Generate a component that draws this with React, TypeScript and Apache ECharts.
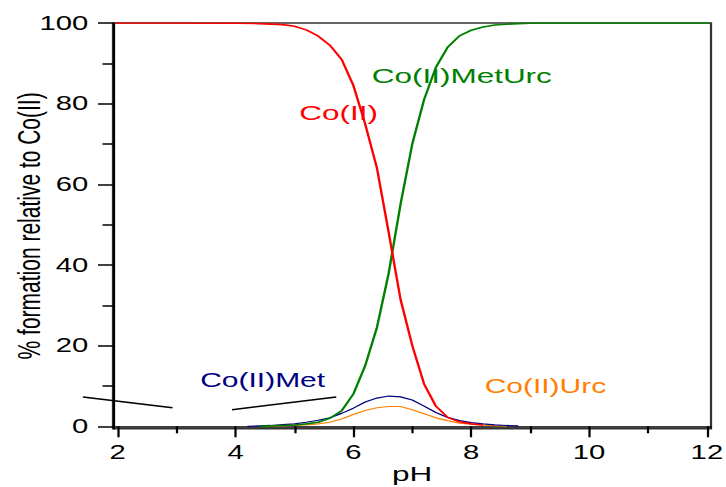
import React, { useEffect, useRef } from "react";
import * as echarts from "echarts";

// The reference picture is horizontally stretched; draw at 1/S width and stretch.
const S = 1.5;
const W = 726 / S;
const H = 487;

const FONT = "'Liberation Sans', Arial, sans-serif";

// ---- data (pH, % formation) ----
const redPH = [1.95, 3.0, 4.0, 4.4, 4.8, 5.0, 5.2, 5.4, 5.6, 5.8, 6.0, 6.2, 6.4, 6.6, 6.8, 7.0, 7.2, 7.4, 7.6, 7.8, 8.0, 8.2];
const redVal = [100, 100, 99.95, 99.85, 99.6, 99.2, 98.3, 96.8, 94.5, 91, 84.5, 75, 64, 48, 31.5, 20, 10.5, 5, 2.2, 1.1, 0.6, 0.3];

const greenPH = [4.4, 4.6, 4.8, 5.0, 5.2, 5.4, 5.6, 5.8, 6.0, 6.2, 6.4, 6.6, 6.8, 7.0, 7.2, 7.4, 7.6, 7.8, 8.0, 8.2, 8.4, 8.6, 8.8, 9.0, 9.2, 10.0, 11.0, 12.05];
const greenVal = [0, 0.1, 0.2, 0.3, 0.6, 1.0, 2.0, 3.8, 8, 15, 24.5, 38, 55, 70, 81, 89, 94, 96.8, 98.2, 99, 99.5, 99.7, 99.85, 99.95, 100, 100, 100, 100];

const bluePH = [4.2, 4.4, 4.6, 4.8, 5.0, 5.2, 5.4, 5.6, 5.8, 6.0, 6.2, 6.4, 6.6, 6.8, 7.0, 7.2, 7.4, 7.6, 7.8, 8.0, 8.2, 8.4, 8.6, 8.8];
const blueVal = [0.0, 0.1, 0.2, 0.4, 0.6, 1.0, 1.5, 2.1, 3.2, 4.5, 6.0, 7.0, 7.5, 7.3, 6.5, 5.0, 3.4, 2.2, 1.4, 0.9, 0.6, 0.35, 0.2, 0.1];

const orangePH = [4.4, 4.6, 4.8, 5.0, 5.2, 5.4, 5.6, 5.8, 6.0, 6.2, 6.4, 6.6, 6.8, 7.0, 7.2, 7.4, 7.6, 7.8, 8.0, 8.2, 8.4, 8.6];
const orangeVal = [0, 0.05, 0.1, 0.2, 0.35, 0.6, 1.0, 1.8, 2.9, 3.9, 4.6, 4.9, 4.9, 4.1, 3.1, 2.1, 1.4, 0.8, 0.5, 0.3, 0.15, 0.05];

// decorative black strokes (data coordinates)
const stroke1PH = [1.41, 2.93];
const stroke1Val = [7.27, 4.61];
const stroke2PH = [3.94, 5.71];
const stroke2Val = [4.12, 7.27];

// axes
const xMin = 1.92;
const xMax = 12.07;
const yMin = -0.6;
const yMax = 100;
const xTickValues = [2, 4, 6, 8, 10, 12];
const xMinorValues = [3, 5, 7, 9, 11];
const yTickValues = [0, 20, 40, 60, 80, 100];
const yMinorValues = [10, 30, 50, 70, 90];
const xName = "pH";
const yName = "% formation relative to Co(II)";

// species labels
const speciesNames = ["Co(II)", "Co(II)MetUrc", "Co(II)Met", "Co(II)Urc"];
const speciesColors = ["#ff0000", "#008000", "#000080", "#ff8000"];
const labelPH = [5.75, 7.84, 4.46, 9.26];
const labelVal = [77.8, 86.9, 11.5, 10.0];

const zip = (xs: number[], ys: number[]) => xs.map((x, i) => [x, ys[i]]);

function labelMark(i: number) {
  return {
    silent: true,
    symbol: "rect",
    symbolSize: 1,
    itemStyle: { color: "rgba(0,0,0,0)" },
    label: {
      show: true,
      position: "inside",
      formatter: speciesNames[i],
      color: speciesColors[i],
      fontSize: i >= 2 ? 20 : 21,
      fontFamily: FONT,
    },
    data: [{ coord: [labelPH[i], labelVal[i]] }],
  };
}

export default function App() {
  const ref = useRef<HTMLDivElement>(null);

  useEffect(() => {
    if (!ref.current) return;
    const chart = echarts.init(ref.current, null, { renderer: "svg" });
    const axisLine = { show: true, lineStyle: { color: "#000", width: 1.5 } };
    chart.setOption({
      animation: false,
      backgroundColor: "#fff",
      grid: {
        left: 75.33,
        right: W - 711 / S,
        top: 23,
        bottom: H - 428.7,
        containLabel: false,
        outerBoundsMode: "none",
        show: true,
        borderColor: "#333",
        borderWidth: 1.5,
        backgroundColor: "rgba(0,0,0,0)",
      },
      xAxis: [
        {
          type: "value",
          min: xMin,
          max: xMax,
          position: "bottom",
          axisLine,
          splitLine: { show: false },
          axisTick: { show: true, length: 11, customValues: xTickValues, lineStyle: { color: "#000", width: 1.5 } },
          axisLabel: { customValues: xTickValues, margin: 14, fontSize: 19.5, color: "#000", fontFamily: FONT },
          name: xName,
          nameLocation: "middle",
          nameGap: 35,
          nameMoveOverlap: false,
          nameTextStyle: { fontSize: 21, color: "#000", fontFamily: FONT },
        },
        {
          type: "value",
          min: xMin,
          max: xMax,
          position: "bottom",
          axisLine: { show: false },
          splitLine: { show: false },
          axisTick: { show: true, length: 7, customValues: xMinorValues, lineStyle: { color: "#000", width: 1.5 } },
          axisLabel: { show: false },
        },
      ],
      yAxis: [
        {
          type: "value",
          min: yMin,
          max: yMax,
          position: "left",
          axisLine,
          splitLine: { show: false },
          axisTick: { show: true, length: 10, customValues: yTickValues, lineStyle: { color: "#000", width: 1.5 } },
          axisLabel: { customValues: yTickValues, margin: 16.5, fontSize: 19.5, color: "#000", fontFamily: FONT },
          name: yName,
          nameLocation: "middle",
          nameGap: 45,
          nameMoveOverlap: false,
          nameTextStyle: { fontSize: 21, color: "#000", fontFamily: FONT },
        },
        {
          type: "value",
          min: yMin,
          max: yMax,
          position: "left",
          axisLine: { show: false },
          splitLine: { show: false },
          axisTick: { show: true, length: 7, customValues: yMinorValues, lineStyle: { color: "#000", width: 1.5 } },
          axisLabel: { show: false },
        },
      ],
      series: [
        {
          name: speciesNames[0],
          type: "line",
          data: zip(redPH, redVal),
          symbol: "none",
          lineStyle: { color: speciesColors[0], width: 1.6 },
          markPoint: labelMark(0),
          z: 5,
        },
        {
          name: speciesNames[1],
          type: "line",
          data: zip(greenPH, greenVal),
          symbol: "none",
          lineStyle: { color: speciesColors[1], width: 1.6 },
          markPoint: labelMark(1),
          z: 4,
        },
        {
          name: speciesNames[2],
          type: "line",
          data: zip(bluePH, blueVal),
          symbol: "none",
          lineStyle: { color: speciesColors[2], width: 1.2 },
          markPoint: labelMark(2),
          z: 3,
        },
        {
          name: speciesNames[3],
          type: "line",
          data: zip(orangePH, orangeVal),
          symbol: "none",
          lineStyle: { color: speciesColors[3], width: 1.2 },
          markPoint: labelMark(3),
          z: 2,
        },
      ],
    });

    // decorative strokes, placed through the chart's own scales (extend outside the plot)
    const toPx = (xs: number[], ys: number[]) =>
      xs.map((x, i) => chart.convertToPixel({ gridIndex: 0 }, [x, ys[i]]) as number[]);
    chart.setOption({
      graphic: [
        {
          type: "polyline",
          silent: true,
          shape: { points: toPx(stroke1PH, stroke1Val) },
          style: { stroke: "#000", lineWidth: 1.6, fill: null },
          z: 10,
        },
        {
          type: "polyline",
          silent: true,
          shape: { points: toPx(stroke2PH, stroke2Val) },
          style: { stroke: "#000", lineWidth: 1.6, fill: null },
          z: 10,
        },
      ],
    });
    return () => chart.dispose();
  }, []);

  return (
    <div
      ref={ref}
      style={{
        position: "fixed",
        left: 0,
        top: 0,
        width: W,
        height: H,
        transform: `scaleX(${S})`,
        transformOrigin: "0 0",
        background: "#fff",
      }}
    />
  );
}
